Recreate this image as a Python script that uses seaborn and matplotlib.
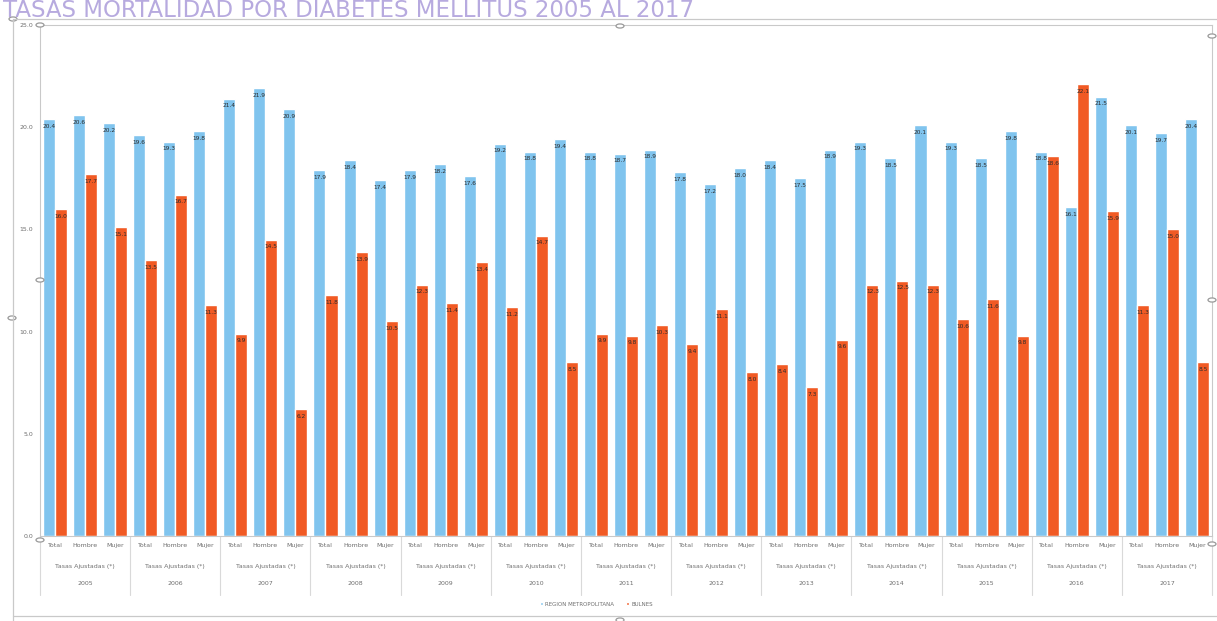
import numpy as np
import pandas as pd
import matplotlib
matplotlib.use("Agg")
import matplotlib.pyplot as plt
from matplotlib.lines import Line2D
from matplotlib.patches import Circle, Patch
import matplotlib.transforms as mtransforms
import seaborn as sns

# ---- data -------------------------------------------------------------
years = ["2005", "2006", "2007", "2008", "2009", "2010", "2011",
         "2012", "2013", "2014", "2015", "2016", "2017"]
sexes = ["Total", "Hombre", "Mujer"]
group_label = "Tasas Ajustadas (*)"
series_names = ["REGION METROPOLITANA", "BULNES"]

region_metropolitana = [
    20.4, 20.6, 20.2,
    19.6, 19.3, 19.8,
    21.4, 21.9, 20.9,
    17.9, 18.4, 17.4,
    17.9, 18.2, 17.6,
    19.2, 18.8, 19.4,
    18.8, 18.7, 18.9,
    17.8, 17.2, 18.0,
    18.4, 17.5, 18.9,
    19.3, 18.5, 20.1,
    19.3, 18.5, 19.8,
    18.8, 16.1, 21.5,
    20.1, 19.7, 20.4,
]
bulnes = [
    16.0, 17.7, 15.1,
    13.5, 16.7, 11.3,
    9.9, 14.5, 6.2,
    11.8, 13.9, 10.5,
    12.3, 11.4, 13.4,
    11.2, 14.7, 8.5,
    9.9, 9.8, 10.3,
    9.4, 11.1, 8.0,
    8.4, 7.3, 9.6,
    12.3, 12.5, 12.3,
    10.6, 11.6, 9.8,
    18.6, 22.1, 15.9,
    11.3, 15.0, 8.5,
]
y_ticks = [0.0, 5.0, 10.0, 15.0, 20.0, 25.0]

# ---- long table for seaborn -------------------------------------------
categories = [f"{y}-{s}" for y in years for s in sexes]
df = pd.DataFrame({
    "categoria": categories * 2,
    "tasa": region_metropolitana + bulnes,
    "serie": [series_names[0]] * len(categories) + [series_names[1]] * len(categories),
})

blue = "#80c4ee"
orange = "#f15a24"
grey_txt = "#6e6e6e"
frame = "#c9c9c9"

sns.set_theme(style="white")
plt.rcParams["font.family"] = ["DejaVu Sans"]

fig = plt.figure(figsize=(12.17, 6.21), dpi=100)
ax = fig.add_axes([40 / 1217, 85 / 621, (1212 - 40) / 1217, (536 - 25) / 621])

sns.barplot(data=df, x="categoria", y="tasa", hue="serie", order=categories,
            hue_order=series_names, palette=[blue, orange], width=0.8,
            saturation=1.0, legend=False, ax=ax)

for cont in ax.containers:
    ax.bar_label(cont, fmt="%.1f", label_type="edge", padding=-7,
                 fontsize=4.2, color="#2b2b2b")

ax.set_ylim(0, 25)
ax.set_xlim(-0.5, len(categories) - 0.5)
ax.set_yticks(y_ticks)
ax.set_yticklabels([f"{v:.1f}" for v in y_ticks], fontsize=4.5, color=grey_txt)
ax.set_xticks(range(len(categories)))
ax.set_xticklabels(sexes * len(years), fontsize=4.5, color=grey_txt)
ax.tick_params(axis="both", length=0, pad=5)
ax.set_xlabel("")
ax.set_ylabel("")
for side, sp in ax.spines.items():
    sp.set_color(frame)
    sp.set_linewidth(0.8)

# second and third label rows plus the year separators
trans = mtransforms.blended_transform_factory(ax.transData, ax.transAxes)
for i, yr in enumerate(years):
    c = 3 * i + 1
    ax.text(c, -0.060, group_label, transform=trans, ha="center", va="center",
            fontsize=4.5, color=grey_txt)
    ax.text(c, -0.092, yr, transform=trans, ha="center", va="center",
            fontsize=4.5, color=grey_txt)
for k in range(len(years) + 1):
    xs = 3 * k - 0.5
    ax.add_line(Line2D([xs, xs], [0, -0.115], transform=trans, color="#d9d9d9",
                       lw=0.8, clip_on=False))

# legend at the bottom
handles = [Patch(facecolor=blue, label=series_names[0]),
           Patch(facecolor=orange, label=series_names[1])]
fig.legend(handles=handles, loc="center", bbox_to_anchor=(0.49, 1 - 604 / 621),
           ncol=2, frameon=False, fontsize=4, handlelength=0.6, handleheight=0.6,
           handletextpad=0.4, columnspacing=2.0, labelcolor=grey_txt)

# title along the top edge
fig.text(3 / 1217, 1 - 17 / 621, "TASAS MORTALIDAD POR DIABETES MELLITUS 2005 AL 2017",
         ha="left", va="baseline", fontsize=16.5, color="#b7aadf")

# outer frame with selection handles
def fig_line(x0, y0, x1, y1):
    fig.add_artist(Line2D([x0 / 1217, x1 / 1217], [1 - y0 / 621, 1 - y1 / 621],
                          transform=fig.transFigure, color=frame, lw=0.9))

fig_line(13, 19, 1217, 19)
fig_line(13, 19, 13, 621)
fig_line(13, 616, 1217, 616)

for (hx, hy) in [(13, 19), (40, 25), (620, 26), (1212, 36), (40, 280),
                 (12, 318), (1212, 544), (40, 540), (620, 620), (1212, 300)]:
    fig.add_artist(Circle((hx / 1217, 1 - hy / 621), 4 / 1217,
                          transform=fig.transFigure, facecolor="white",
                          edgecolor="#9a9a9a", lw=0.9))

fig.savefig("out.png", dpi=100)
